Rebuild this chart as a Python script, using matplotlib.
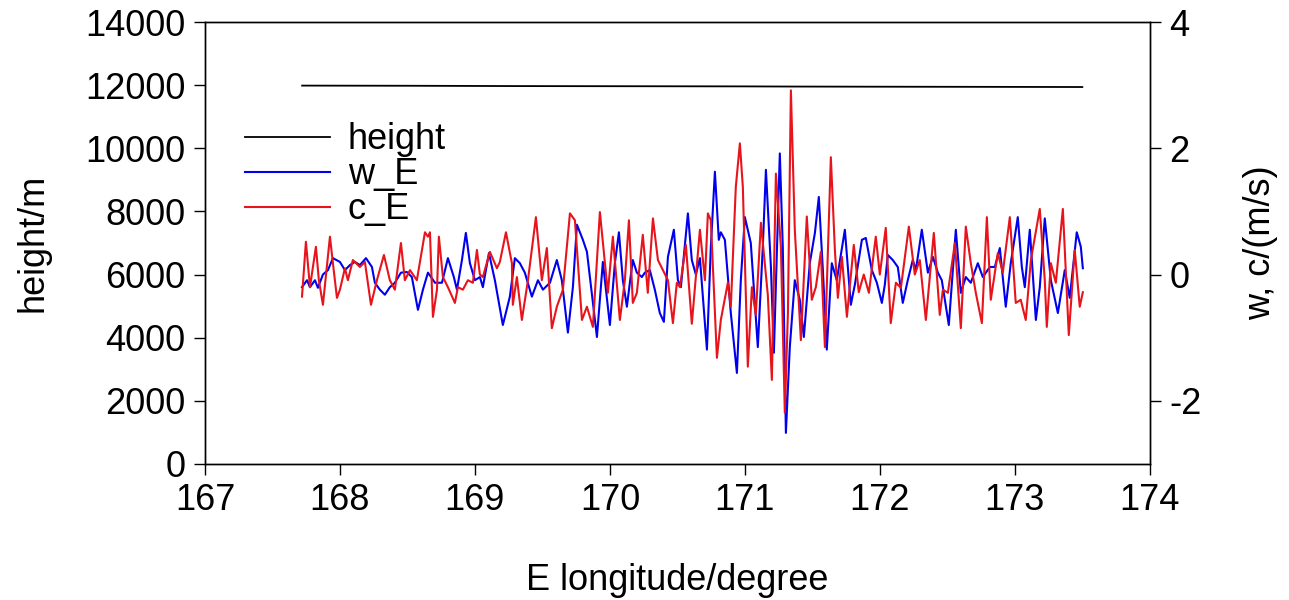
import matplotlib
matplotlib.use("Agg")
import matplotlib.pyplot as plt
import numpy as np

plt.rcParams['font.family'] = ['Liberation Sans', 'DejaVu Sans']
plt.rcParams['axes.unicode_minus'] = False

# flight height along track
h_lon = [167.72, 168.5, 169.3, 170.2, 171.0, 171.34, 172.0, 172.8, 173.5]
h_val = [11990, 11985, 11975, 11970, 11965, 11960, 11955, 11950, 11945]

# w_E (right axis, m/s)
w_lon = [167.719, 167.756, 167.778, 167.815, 167.837, 167.874, 167.911, 167.948, 168.000, 168.037,
         168.074, 168.111, 168.148, 168.193, 168.237, 168.259, 168.296, 168.333, 168.370, 168.407,
         168.452, 168.496, 168.533, 168.578, 168.615, 168.652, 168.704, 168.756, 168.800, 168.844,
         168.867, 168.904, 168.933, 168.963, 169.000, 169.037, 169.059, 169.104, 169.148, 169.207,
         169.259, 169.296, 169.333, 169.370, 169.422, 169.467, 169.504, 169.556, 169.607, 169.644,
         169.689, 169.726, 169.756, 169.800, 169.830, 169.904, 169.948, 170.000, 170.037, 170.067,
         170.096, 170.126, 170.148, 170.170, 170.200, 170.237, 170.259, 170.296, 170.333, 170.370,
         170.400, 170.430, 170.474, 170.504, 170.526, 170.578, 170.607, 170.637, 170.667, 170.689,
         170.719, 170.748, 170.778, 170.807, 170.822, 170.852, 170.896, 170.941, 170.970, 171.000,
         171.044, 171.096, 171.133, 171.156, 171.193, 171.215, 171.259, 171.281, 171.304, 171.333,
         171.370, 171.407, 171.437, 171.481, 171.519, 171.548, 171.578, 171.607, 171.644, 171.681,
         171.741, 171.785, 171.815, 171.867, 171.896, 171.941, 171.978, 172.015, 172.037, 172.059,
         172.096, 172.133, 172.170, 172.207, 172.244, 172.267, 172.311, 172.356, 172.393, 172.430,
         172.459, 172.511, 172.563, 172.600, 172.637, 172.674, 172.726, 172.763, 172.815, 172.852,
         172.889, 172.933, 172.970, 173.022, 173.052, 173.074, 173.111, 173.156, 173.185, 173.222,
         173.267, 173.319, 173.370, 173.407, 173.459, 173.489, 173.504]
w_val = [-0.20, -0.09, -0.20, -0.09, -0.21, 0.00, 0.07, 0.26, 0.20, 0.07,
         0.15, 0.20, 0.15, 0.26, 0.12, -0.13, -0.24, -0.32, -0.20, -0.13,
         0.03, 0.04, -0.04, -0.56, -0.24, 0.03, -0.13, -0.13, 0.26, -0.04,
         -0.24, 0.23, 0.66, 0.18, -0.09, -0.04, -0.20, 0.34, -0.09, -0.80,
         -0.35, 0.26, 0.18, 0.03, -0.35, -0.09, -0.24, -0.13, 0.23, -0.09,
         -0.92, -0.20, 0.79, 0.55, 0.36, -0.99, 0.20, -0.80, 0.18, 0.67,
         -0.09, -0.51, -0.13, 0.23, 0.03, -0.04, 0.03, 0.07, -0.24, -0.61,
         -0.75, 0.28, 0.71, -0.09, -0.20, 0.97, 0.23, 0.00, 0.26, -0.35,
         -1.19, 0.44, 1.63, 0.55, 0.67, 0.55, -0.61, -1.56, -0.09, 0.91,
         0.50, -1.15, 0.44, 1.66, 0.12, -1.24, 1.92, 0.44, -2.51, -1.15,
         -0.09, -0.40, -0.99, 0.18, 0.66, 1.23, 0.07, -1.19, 0.18, -0.09,
         0.71, -0.48, -0.16, 0.55, 0.58, 0.07, -0.13, -0.45, -0.16, 0.31,
         0.23, 0.12, -0.45, -0.09, 0.23, 0.07, 0.71, 0.03, 0.28, 0.03,
         -0.09, -0.80, 0.71, -0.29, -0.04, -0.13, 0.18, -0.04, 0.12, 0.12,
         0.42, -0.51, 0.18, 0.91, 0.12, -0.20, 0.71, -0.72, -0.20, 0.89,
         -0.09, -0.61, 0.07, -0.37, 0.67, 0.44, 0.10]

# c_E (right axis, m/s)
c_lon = [167.719, 167.748, 167.778, 167.822, 167.844, 167.874, 167.926, 167.948, 167.978, 168.000,
         168.037, 168.059, 168.096, 168.148, 168.185, 168.230, 168.274, 168.326, 168.370, 168.407,
         168.452, 168.481, 168.519, 168.570, 168.630, 168.652, 168.667, 168.689, 168.719, 168.733,
         168.763, 168.800, 168.852, 168.874, 168.911, 168.948, 168.985, 169.015, 169.037, 169.059,
         169.111, 169.163, 169.185, 169.230, 169.274, 169.281, 169.311, 169.348, 169.393, 169.452,
         169.496, 169.533, 169.570, 169.607, 169.652, 169.704, 169.741, 169.793, 169.830, 169.874,
         169.926, 169.963, 169.985, 170.022, 170.074, 170.111, 170.141, 170.170, 170.200, 170.244,
         170.281, 170.319, 170.356, 170.393, 170.430, 170.467, 170.496, 170.519, 170.563, 170.607,
         170.667, 170.704, 170.726, 170.748, 170.793, 170.822, 170.874, 170.896, 170.933, 170.963,
         170.985, 171.022, 171.052, 171.081, 171.119, 171.170, 171.200, 171.230, 171.267, 171.296,
         171.319, 171.341, 171.370, 171.393, 171.415, 171.459, 171.496, 171.526, 171.563, 171.593,
         171.637, 171.667, 171.689, 171.719, 171.756, 171.807, 171.844, 171.881, 171.919, 171.970,
         172.000, 172.044, 172.081, 172.119, 172.156, 172.215, 172.259, 172.296, 172.341, 172.400,
         172.444, 172.467, 172.504, 172.556, 172.600, 172.637, 172.674, 172.711, 172.756, 172.793,
         172.822, 172.874, 172.911, 172.963, 173.007, 173.044, 173.081, 173.119, 173.185, 173.222,
         173.237, 173.267, 173.304, 173.356, 173.400, 173.444, 173.481, 173.504]
c_val = [-0.35, 0.52, -0.20, 0.44, -0.09, -0.48, 0.60, 0.18, -0.37, -0.24,
         0.10, -0.09, 0.23, 0.12, 0.20, -0.48, -0.09, 0.31, -0.09, -0.24,
         0.50, -0.09, 0.07, -0.09, 0.67, 0.60, 0.67, -0.67, -0.24, 0.60,
         -0.04, -0.20, -0.45, -0.20, -0.24, -0.09, -0.13, 0.39, 0.00, -0.04,
         0.36, 0.10, 0.20, 0.67, 0.18, -0.48, -0.04, -0.72, -0.09, 0.91,
         -0.09, 0.42, -0.85, -0.51, -0.24, 0.97, 0.86, -0.72, -0.51, -0.83,
         0.99, 0.18, -0.29, 0.60, -0.72, -0.09, 0.86, -0.45, -0.29, 0.63,
         -0.29, 0.89, 0.23, 0.07, -0.09, -0.77, -0.13, -0.20, 0.47, -0.78,
         0.71, -0.09, 0.97, 0.86, -1.32, -0.72, -0.13, -0.51, 1.39, 2.08,
         1.39, -1.46, -0.20, -0.64, 0.82, -0.32, -1.67, 1.60, 0.44, -2.19,
         -0.61, 2.92, 0.71, -0.20, -1.04, 0.92, -0.40, -0.20, 0.36, -1.15,
         1.86, 0.39, -0.37, 0.28, -0.67, 0.47, -0.28, 0.00, -0.29, 0.60,
         0.00, 0.74, -0.77, -0.13, -0.21, 0.76, 0.00, 0.23, -0.72, 0.66,
         -0.64, -0.24, -0.29, 0.50, -0.85, 0.76, 0.18, -0.29, -0.77, 0.91,
         -0.40, 0.34, 0.03, 0.91, -0.45, -0.40, -0.72, 0.23, 1.04, -0.09,
         -0.83, 0.18, -0.13, 1.04, -0.96, 0.39, -0.51, -0.28]

fs = 26

fig = plt.figure(figsize=(12.89, 6), dpi=100)
ax = fig.add_axes([0.159, 0.227, 0.733, 0.736])
ax2 = ax.twinx()

l1, = ax.plot(h_lon, h_val, color='black', lw=1.3, label='height')
l2, = ax2.plot(w_lon, w_val, color='#0000ee', lw=1.5, label='w_E')
l3, = ax2.plot(c_lon, c_val, color='#e8141c', lw=1.5, label='c_E')

ax.set_xlim(167, 174)
ax.set_ylim(0, 14000)
ax2.set_ylim(-3, 4)
ax.set_xticks(np.arange(167, 175, 1))
ax.set_yticks(np.arange(0, 14001, 2000))
ax2.set_yticks([-2, 0, 2, 4])

ax.tick_params(axis='both', direction='out', length=8, width=1, labelsize=fs, pad=6)
ax2.tick_params(axis='y', direction='out', length=8, width=1, labelsize=fs, pad=6)
for sp in list(ax.spines.values()) + list(ax2.spines.values()):
    sp.set_linewidth(1.0)

ax.set_xlabel('E longitude/degree', fontsize=fs, labelpad=32)
ax.set_ylabel('height/m', fontsize=fs, labelpad=25)
ax2.set_ylabel('w, c/(m/s)', fontsize=fs, labelpad=30)

ax2.legend(handles=[l1, l2, l3], loc='upper left', bbox_to_anchor=(0.027, 0.806),
           frameon=False, fontsize=fs, handlelength=2.35, handletextpad=0.5,
           labelspacing=0.0, borderaxespad=0)

fig.savefig('out.png', dpi=100)
